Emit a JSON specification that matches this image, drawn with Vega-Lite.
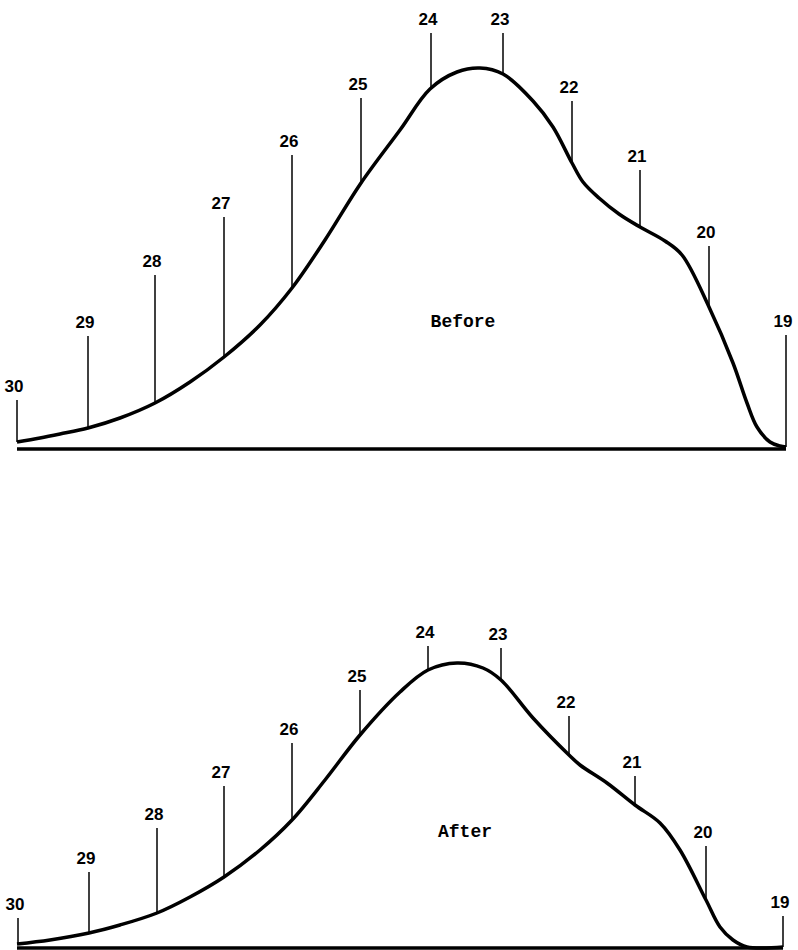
{
  "$schema": "https://vega.github.io/schema/vega-lite/v6.json",
  "padding": {"left": 4, "top": 9, "right": 0, "bottom": 0},
  "spacing": 59,
  "bounds": "flush",
  "background": "white",
  "config": {"view": {"stroke": null}},
  "datasets": {
    "curve": [
      {"panel": "Before", "dist": 0, "height": 7},
      {"panel": "Before", "dist": 23, "height": 11},
      {"panel": "Before", "dist": 43, "height": 15},
      {"panel": "Before", "dist": 71, "height": 21},
      {"panel": "Before", "dist": 103, "height": 31},
      {"panel": "Before", "dist": 138, "height": 46},
      {"panel": "Before", "dist": 173, "height": 67},
      {"panel": "Before", "dist": 207, "height": 92},
      {"panel": "Before", "dist": 243, "height": 124},
      {"panel": "Before", "dist": 275, "height": 161},
      {"panel": "Before", "dist": 308, "height": 209},
      {"panel": "Before", "dist": 344, "height": 266},
      {"panel": "Before", "dist": 383, "height": 319},
      {"panel": "Before", "dist": 413, "height": 360},
      {"panel": "Before", "dist": 440, "height": 377},
      {"panel": "Before", "dist": 463, "height": 381},
      {"panel": "Before", "dist": 486, "height": 375},
      {"panel": "Before", "dist": 516, "height": 348},
      {"panel": "Before", "dist": 536, "height": 322},
      {"panel": "Before", "dist": 555, "height": 286},
      {"panel": "Before", "dist": 566, "height": 267},
      {"panel": "Before", "dist": 582, "height": 251},
      {"panel": "Before", "dist": 602, "height": 235},
      {"panel": "Before", "dist": 623, "height": 222},
      {"panel": "Before", "dist": 648, "height": 208},
      {"panel": "Before", "dist": 665, "height": 194},
      {"panel": "Before", "dist": 692, "height": 142},
      {"panel": "Before", "dist": 716, "height": 86},
      {"panel": "Before", "dist": 730, "height": 46},
      {"panel": "Before", "dist": 740, "height": 22},
      {"panel": "Before", "dist": 753, "height": 7},
      {"panel": "Before", "dist": 763, "height": 3},
      {"panel": "Before", "dist": 769, "height": 2},
      {"panel": "After", "dist": 0, "height": 4},
      {"panel": "After", "dist": 33, "height": 8},
      {"panel": "After", "dist": 72, "height": 15},
      {"panel": "After", "dist": 103, "height": 23},
      {"panel": "After", "dist": 140, "height": 35},
      {"panel": "After", "dist": 173, "height": 51},
      {"panel": "After", "dist": 207, "height": 71},
      {"panel": "After", "dist": 243, "height": 98},
      {"panel": "After", "dist": 275, "height": 128},
      {"panel": "After", "dist": 308, "height": 168},
      {"panel": "After", "dist": 343, "height": 213},
      {"panel": "After", "dist": 383, "height": 256},
      {"panel": "After", "dist": 411, "height": 278},
      {"panel": "After", "dist": 440, "height": 285},
      {"panel": "After", "dist": 466, "height": 280},
      {"panel": "After", "dist": 484, "height": 268},
      {"panel": "After", "dist": 516, "height": 230},
      {"panel": "After", "dist": 552, "height": 193},
      {"panel": "After", "dist": 563, "height": 183},
      {"panel": "After", "dist": 590, "height": 165},
      {"panel": "After", "dist": 618, "height": 143},
      {"panel": "After", "dist": 643, "height": 125},
      {"panel": "After", "dist": 663, "height": 98},
      {"panel": "After", "dist": 689, "height": 48},
      {"panel": "After", "dist": 703, "height": 21},
      {"panel": "After", "dist": 716, "height": 8},
      {"panel": "After", "dist": 730, "height": 1},
      {"panel": "After", "dist": 766, "height": 1}
    ],
    "ticks": [
      {"panel": "Before", "station": "30", "dist": 0, "surface": 7, "top": 49},
      {"panel": "Before", "station": "29", "dist": 71, "surface": 21, "top": 113},
      {"panel": "Before", "station": "28", "dist": 138, "surface": 46, "top": 174},
      {"panel": "Before", "station": "27", "dist": 207, "surface": 92, "top": 232},
      {"panel": "Before", "station": "26", "dist": 275, "surface": 161, "top": 294},
      {"panel": "Before", "station": "25", "dist": 344, "surface": 266, "top": 351},
      {"panel": "Before", "station": "24", "dist": 414, "surface": 361, "top": 416},
      {"panel": "Before", "station": "23", "dist": 486, "surface": 375, "top": 416},
      {"panel": "Before", "station": "22", "dist": 555, "surface": 286, "top": 348},
      {"panel": "Before", "station": "21", "dist": 623, "surface": 222, "top": 279},
      {"panel": "Before", "station": "20", "dist": 692, "surface": 142, "top": 203},
      {"panel": "Before", "station": "19", "dist": 769, "surface": 2, "top": 114},
      {"panel": "After", "station": "30", "dist": 1, "surface": 4, "top": 30},
      {"panel": "After", "station": "29", "dist": 72, "surface": 15, "top": 76},
      {"panel": "After", "station": "28", "dist": 140, "surface": 35, "top": 120},
      {"panel": "After", "station": "27", "dist": 207, "surface": 71, "top": 162},
      {"panel": "After", "station": "26", "dist": 275, "surface": 128, "top": 205},
      {"panel": "After", "station": "25", "dist": 343, "surface": 213, "top": 258},
      {"panel": "After", "station": "24", "dist": 411, "surface": 278, "top": 302},
      {"panel": "After", "station": "23", "dist": 484, "surface": 268, "top": 300},
      {"panel": "After", "station": "22", "dist": 552, "surface": 193, "top": 232},
      {"panel": "After", "station": "21", "dist": 618, "surface": 143, "top": 172},
      {"panel": "After", "station": "20", "dist": 689, "surface": 48, "top": 102},
      {"panel": "After", "station": "19", "dist": 766, "surface": 1, "top": 32}
    ],
    "captions": [
      {"panel": "Before", "dist": 446, "height": 127},
      {"panel": "After", "dist": 448, "height": 116}
    ]
  },
  "vconcat": [
    {
      "width": 769,
      "height": 440,
      "layer": [
        {
          "data": {"name": "curve"},
          "transform": [
            {"filter": "datum.panel === 'Before'"},
            {"aggregate": [{"op": "min", "field": "dist", "as": "x0"}, {"op": "max", "field": "dist", "as": "x1"}]}
          ],
          "mark": {"type": "rule", "strokeWidth": 3.5, "color": "black"},
          "encoding": {
            "x": {"field": "x0", "type": "quantitative", "scale": {"domain": [0, 769], "nice": false, "zero": false}, "axis": null},
            "x2": {"field": "x1"},
            "y": {"datum": 0, "type": "quantitative", "scale": {"domain": [0, 440], "nice": false}, "axis": null}
          }
        },
        {
          "data": {"name": "ticks"},
          "transform": [{"filter": "datum.panel === 'Before'"}],
          "mark": {"type": "rule", "strokeWidth": 1.5, "color": "black"},
          "encoding": {
            "x": {"field": "dist", "type": "quantitative"},
            "y": {"field": "surface", "type": "quantitative"},
            "y2": {"field": "top"}
          }
        },
        {
          "data": {"name": "ticks"},
          "transform": [{"filter": "datum.panel === 'Before'"}],
          "mark": {"type": "text", "font": "Liberation Sans", "fontWeight": "bold", "fontSize": 17, "baseline": "middle", "align": "center", "dy": -13, "dx": -3, "color": "black"},
          "encoding": {
            "x": {"field": "dist", "type": "quantitative"},
            "y": {"field": "top", "type": "quantitative"},
            "text": {"field": "station"}
          }
        },
        {
          "data": {"name": "curve"},
          "transform": [{"filter": "datum.panel === 'Before'"}],
          "mark": {"type": "line", "interpolate": "catmull-rom", "strokeWidth": 3.5, "color": "black"},
          "encoding": {
            "x": {"field": "dist", "type": "quantitative"},
            "y": {"field": "height", "type": "quantitative"}
          }
        },
        {
          "data": {"name": "captions"},
          "transform": [{"filter": "datum.panel === 'Before'"}],
          "mark": {"type": "text", "font": "Liberation Mono", "fontWeight": "bold", "fontSize": 18, "baseline": "middle", "align": "center", "color": "black"},
          "encoding": {
            "x": {"field": "dist", "type": "quantitative"},
            "y": {"field": "height", "type": "quantitative"},
            "text": {"field": "panel"}
          }
        }
      ]
    },
    {
      "width": 769,
      "height": 440,
      "layer": [
        {
          "data": {"name": "curve"},
          "transform": [
            {"filter": "datum.panel === 'After'"},
            {"aggregate": [{"op": "min", "field": "dist", "as": "x0"}, {"op": "max", "field": "dist", "as": "x1"}]}
          ],
          "mark": {"type": "rule", "strokeWidth": 3.5, "color": "black"},
          "encoding": {
            "x": {"field": "x0", "type": "quantitative", "scale": {"domain": [0, 769], "nice": false, "zero": false}, "axis": null},
            "x2": {"field": "x1"},
            "y": {"datum": 0, "type": "quantitative", "scale": {"domain": [0, 440], "nice": false}, "axis": null}
          }
        },
        {
          "data": {"name": "ticks"},
          "transform": [{"filter": "datum.panel === 'After'"}],
          "mark": {"type": "rule", "strokeWidth": 1.5, "color": "black"},
          "encoding": {
            "x": {"field": "dist", "type": "quantitative"},
            "y": {"field": "surface", "type": "quantitative"},
            "y2": {"field": "top"}
          }
        },
        {
          "data": {"name": "ticks"},
          "transform": [{"filter": "datum.panel === 'After'"}],
          "mark": {"type": "text", "font": "Liberation Sans", "fontWeight": "bold", "fontSize": 17, "baseline": "middle", "align": "center", "dy": -13, "dx": -3, "color": "black"},
          "encoding": {
            "x": {"field": "dist", "type": "quantitative"},
            "y": {"field": "top", "type": "quantitative"},
            "text": {"field": "station"}
          }
        },
        {
          "data": {"name": "curve"},
          "transform": [{"filter": "datum.panel === 'After'"}],
          "mark": {"type": "line", "interpolate": "catmull-rom", "strokeWidth": 3.5, "color": "black"},
          "encoding": {
            "x": {"field": "dist", "type": "quantitative"},
            "y": {"field": "height", "type": "quantitative"}
          }
        },
        {
          "data": {"name": "captions"},
          "transform": [{"filter": "datum.panel === 'After'"}],
          "mark": {"type": "text", "font": "Liberation Mono", "fontWeight": "bold", "fontSize": 18, "baseline": "middle", "align": "center", "color": "black"},
          "encoding": {
            "x": {"field": "dist", "type": "quantitative"},
            "y": {"field": "height", "type": "quantitative"},
            "text": {"field": "panel"}
          }
        }
      ]
    }
  ]
}
